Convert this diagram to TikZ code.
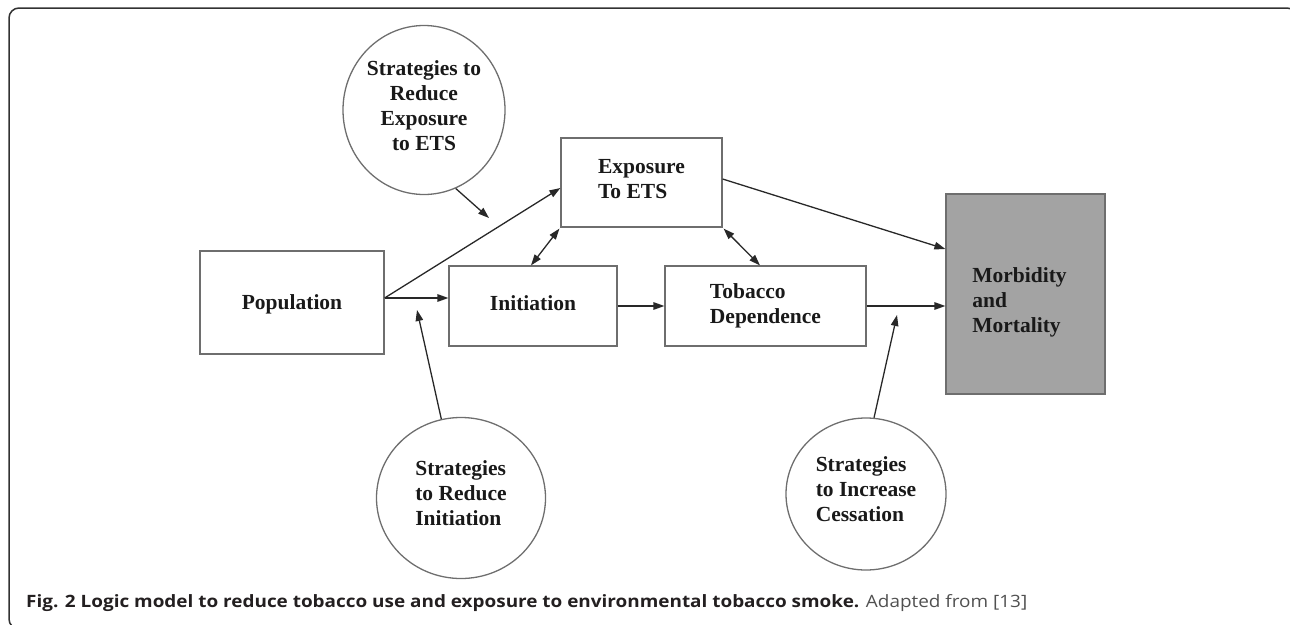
\documentclass[tikz,border=0pt]{standalone}
\usepackage{fontspec}
\setmainfont{Liberation Serif}
\newfontfamily\capfont{Open Sans}
\usetikzlibrary{arrows.meta,shapes.geometric}
\definecolor{boxgray}{RGB}{110,110,110}
\definecolor{arrcol}{RGB}{40,40,40}
\definecolor{morbfill}{RGB}{163,163,163}
\definecolor{framecol}{RGB}{50,50,50}
\definecolor{capcol}{RGB}{35,31,32}
\definecolor{capgray}{RGB}{80,80,80}
\newcommand\mvtext[3]{\raisebox{#1}[\height][\depth]{\begin{tabular}{@{}#2@{}}#3\end{tabular}}}
\begin{document}
\begin{tikzpicture}[x=1pt,y=-1pt,
  txt/.style={font=\bfseries\fontsize{21.5}{25}\selectfont,text=black!90},
  box/.style={txt,draw=boxgray,line width=1.2pt,rectangle,inner sep=0pt},
  circ/.style={txt,draw=boxgray,line width=1.3pt,ellipse,inner sep=0pt},
  arr/.style={draw=arrcol,line width=1.3pt,-{Triangle[length=11pt,width=7.5pt]}},
  darr/.style={draw=arrcol,line width=1.3pt,{Triangle[length=11pt,width=7.5pt]}-{Triangle[length=11pt,width=7.5pt]}}]
\useasboundingbox (0,0) rectangle (1290,624);
% frame
\draw[framecol,line width=1.5pt,rounded corners=10pt] (40,629) -- (9,629) -- (9,8) -- (1297,8) -- (1297,40);
% boxes
\node[box,minimum width=184,minimum height=103] (pop) at (292,302.5) {\mvtext{-2pt}{l}{Population}};
\node[box,minimum width=161,minimum height=89] (expo) at (641.5,182.5) {\mvtext{2pt}{l}{Exposure\\To ETS}};
\node[box,minimum width=168,minimum height=80] (init) at (533,306) {\mvtext{1pt}{l}{Initiation}};
\node[box,minimum width=201,minimum height=80] (tob) at (765.5,306) {\mvtext{0pt}{l}{Tobacco\\Dependence}};
\node[box,fill=morbfill,minimum width=159,minimum height=200] (morb) at (1025.5,294) {\mvtext{-8pt}{l}{Morbidity\\and\\Mortality}\hspace*{12pt}};
% circles
\node[circ,minimum width=162,minimum height=169] (ets) at (424,110) {\mvtext{2.5pt}{c}{Strategies to\\Reduce\\Exposure\\to ETS}};
\node[circ,minimum width=169,minimum height=161] (ri) at (461,498) {\mvtext{3pt}{l}{Strategies\\to Reduce\\Initiation}};
\node[circ,minimum width=160,minimum height=152] (ic) at (866,494) {\mvtext{3pt}{l}{Strategies\\to Increase\\Cessation}};
% free ends
\coordinate (etsend) at (489,218);
\coordinate (riend) at (417,310);
\coordinate (icend) at (897,315);
% connectors
\draw[arr] ([yshift=4.5pt]pop.east) -- ([yshift=-5.5pt]expo.west);
\draw[arr] ([yshift=4.5pt]pop.east) -- ([yshift=8pt]init.west);
\draw[arr] (init.east) -- (tob.west);
\draw[arr] (tob.east) -- ([yshift=-12pt]morb.west);
\draw[arr] ([yshift=3.5pt]expo.east) -- ([yshift=45pt]morb.west);
\draw[darr] ([xshift=-2pt]init.north) -- ([xshift=-1pt,yshift=-1pt]expo.south west);
\draw[darr] ([xshift=1pt,yshift=-1pt]expo.south east) -- ([xshift=-5.5pt]tob.north);
\draw[arr] (ets.-68) -- (etsend);
\draw[arr] (ri.104) -- (riend);
\draw[arr] (ic.84) -- (icend);
% caption
\node[anchor=base west,inner sep=0pt,font=\capfont\fontsize{17}{20}\selectfont,text=capcol] (cap) at (26,607.5)
  {\scalebox{1.113}[1]{\textbf{Fig. 2 Logic model to reduce tobacco use and exposure to environmental tobacco smoke.} \textcolor{capgray}{Adapted from [13]}}};
\end{tikzpicture}
\end{document}
